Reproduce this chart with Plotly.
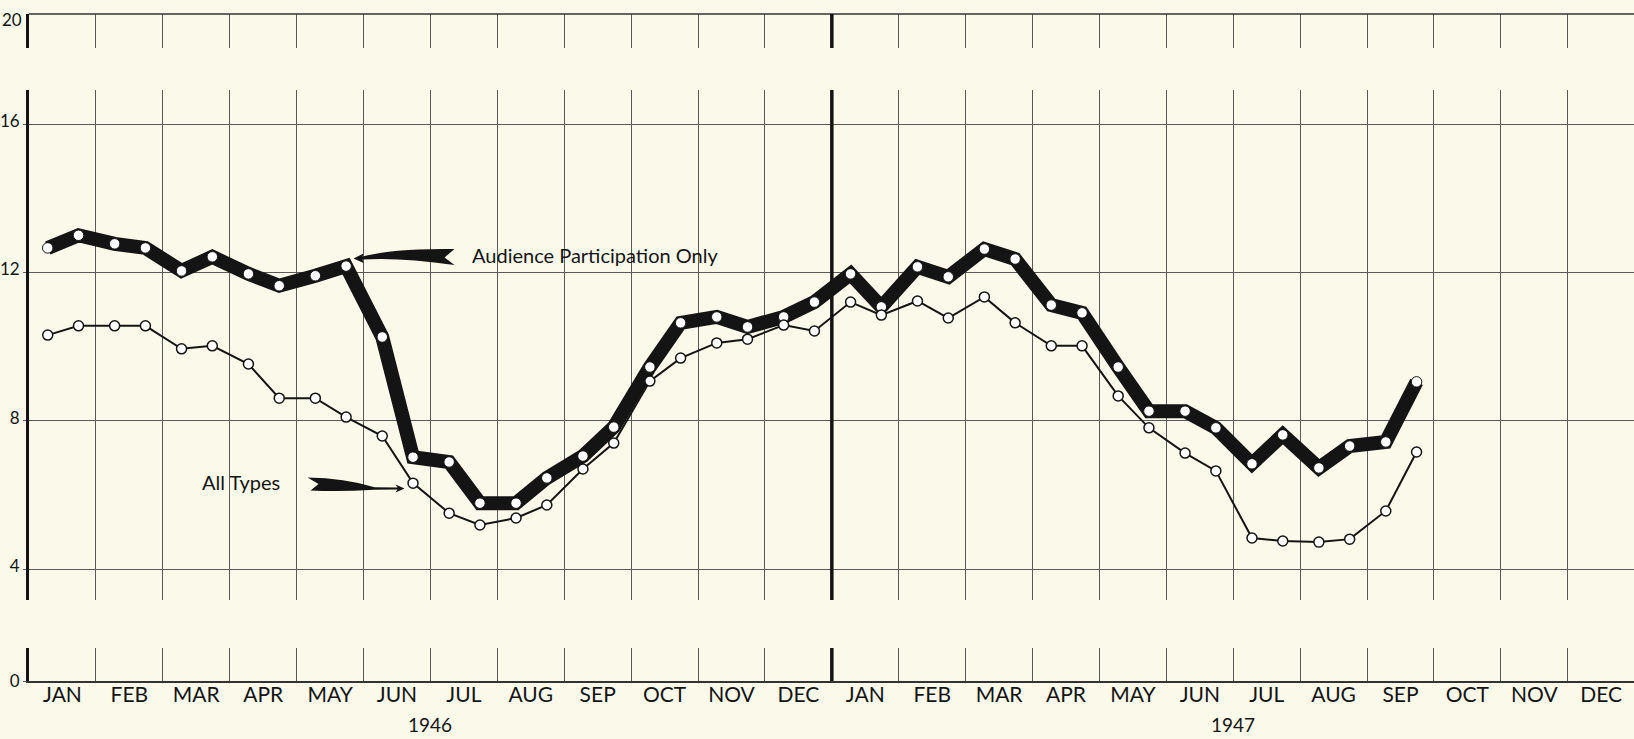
import plotly.graph_objects as go

# Semi-monthly ratings, Jan 1946 - Sep 1947 (two reports per month)
MONTHS = ["JAN", "FEB", "MAR", "APR", "MAY", "JUN",
          "JUL", "AUG", "SEP", "OCT", "NOV", "DEC"]
YEARS = ["1946", "1947"]

audience_participation = [
    12.66, 13.00, 12.77, 12.66, 12.04, 12.42, 11.96, 11.64, 11.91, 12.17, 10.26, 7.02,
    6.89, 5.78, 5.78, 6.46, 7.05, 7.83, 9.45, 10.64, 10.80, 10.53, 10.80, 11.20,
    11.96, 11.07, 12.15, 11.88, 12.63, 12.36, 11.12, 10.91, 9.45, 8.26, 8.26, 7.81,
    6.84, 7.62, 6.73, 7.32, 7.43, 9.05,
]
all_types = [
    10.31, 10.56, 10.56, 10.56, 9.94, 10.02, 9.53, 8.61, 8.61, 8.10, 7.59, 6.32,
    5.51, 5.19, 5.38, 5.73, 6.70, 7.40, 9.07, 9.69, 10.10, 10.20, 10.58, 10.42,
    11.20, 10.85, 11.23, 10.77, 11.34, 10.64, 10.02, 10.02, 8.67, 7.81, 7.13, 6.65,
    4.84, 4.76, 4.73, 4.81, 5.57, 7.16,
]

# position of the 1st and 2nd report inside a month (month units)
REPORT_OFFSETS = (0.28, 0.74)
x_reports = [m + off for m in range(len(audience_participation) // 2) for off in REPORT_OFFSETS]

BG = "#FBF9EA"
INK = "#141414"
GRID = "#5a5a5a"
FONT = "Lato"

W, H = 1634, 739
LEFT = 29
MONTH_PX = 66.9
UNIT_PX = 37.1


def px_x(p):
    return (p - LEFT - 0.5) / MONTH_PX


def px_y(p):
    # pixel row -> value on the main panel (16 sits at row 124)
    return 16 - (p - 124) / UNIT_PX


def swoosh_path(cmds):
    parts = []
    for cmd, pts in cmds:
        coords = " ".join(f"{px_x(x):.4f},{px_y(y):.4f}" for x, y in pts)
        parts.append(f"{cmd}{coords}")
    return " ".join(parts) + " Z"


def dom(top_px, bottom_px):
    return [1 - bottom_px / H, 1 - top_px / H]


fig = go.Figure()

fig.add_trace(go.Scatter(
    x=x_reports, y=audience_participation, mode="lines+markers",
    line=dict(color=INK, width=14),
    marker=dict(size=10.5, color="white", line=dict(color=INK, width=1)),
    name="Audience Participation Only", hoverinfo="skip",
))
fig.add_trace(go.Scatter(
    x=x_reports, y=all_types, mode="lines+markers",
    line=dict(color=INK, width=2),
    marker=dict(size=10, color="white", line=dict(color=INK, width=1.5)),
    name="All Types", hoverinfo="skip",
))
# empty traces so the two axis stubs become subplots with their own grid
fig.add_trace(go.Scatter(x=[None], y=[None], yaxis="y2", showlegend=False))
fig.add_trace(go.Scatter(x=[None], y=[None], yaxis="y3", showlegend=False))

common_y = dict(
    showline=True, linecolor=INK, linewidth=3,
    showgrid=True, gridcolor=GRID, gridwidth=1,
    zeroline=False, ticks="outside", ticklen=3, tickcolor=GRID,
    tickfont=dict(family=FONT, size=17, color=INK),
    ticklabelshift=-3, automargin=False, fixedrange=True,
)

main_bottom = 600
main_top = 90
fig.update_layout(
    width=W, height=H,
    margin=dict(l=LEFT, r=0, t=0, b=0),
    paper_bgcolor=BG, plot_bgcolor=BG,
    showlegend=False,
    xaxis=dict(
        range=[0, 23.99], anchor="y3",
        tickmode="array",
        tickvals=[m + 0.5 for m in range(24)],
        ticktext=MONTHS * 2,
        tickfont=dict(family=FONT, size=21, color=INK),
        showgrid=False, zeroline=False,
        showline=True, linecolor="#333333", linewidth=1.5,
        ticks="", ticklabelstandoff=-6, automargin=False,
        minor=dict(dtick=1, tick0=0, showgrid=True, gridcolor=GRID, gridwidth=1),
        fixedrange=True,
    ),
    yaxis=dict(
        domain=dom(main_top, main_bottom),
        range=[px_y(main_bottom), px_y(main_top)],
        tickvals=[4, 8, 12, 16],
        **common_y,
    ),
    yaxis2=dict(
        domain=dom(14, 48),
        range=[20 - 34 / UNIT_PX, 20],
        tickvals=[], anchor="x",
        **common_y,
    ),
    yaxis3=dict(
        domain=dom(648, 681),
        range=[0, 33 / UNIT_PX],
        tickvals=[0], anchor="x",
        **{**common_y, "showgrid": False, "ticklabelshift": 0},
    ),
)

# top frame line of the upper stub and its label
fig.add_shape(type="line", xref="paper", yref="y2 domain", x0=0, x1=1, y0=1, y1=1,
              line=dict(color="#333333", width=1.5))
fig.add_annotation(text="20", xref="paper", yref="y2", x=0, y=20, xshift=-5, yshift=-5,
                   xanchor="right", yanchor="middle", showarrow=False,
                   font=dict(family=FONT, size=17, color=INK))

# heavy divider between the two years
for yref in ("y domain", "y2 domain", "y3 domain"):
    fig.add_shape(type="line", xref="x", yref=yref, x0=12, x1=12, y0=0, y1=1,
                  line=dict(color=INK, width=3.5))

# swoosh arrows
fig.add_shape(type="path", xref="x", yref="y", fillcolor=INK, line=dict(width=0),
              path=swoosh_path([
                  ("M", [(354, 258.5)]), ("L", [(364, 253.5)]), ("L", [(363, 256.5)]),
                  ("Q", [(395, 248), (455, 249)]), ("L", [(445, 257.5)]), ("L", [(455, 265)]),
                  ("Q", [(400, 257), (363, 259.5)]), ("L", [(364, 263)]),
              ]))
fig.add_shape(type="path", xref="x", yref="y", fillcolor=INK, line=dict(width=0),
              path=swoosh_path([
                  ("M", [(308, 477.5)]), ("Q", [(345, 478), (375, 487.2)]),
                  ("L", [(398, 487.5)]), ("L", [(396, 484.5)]), ("L", [(405, 488.5)]),
                  ("L", [(396, 492.5)]), ("L", [(398, 489.5)]), ("L", [(375, 489.7)]),
                  ("Q", [(340, 492), (311, 490.5)]), ("L", [(319, 484)]),
              ]))

fig.add_annotation(text="Audience Participation Only", x=px_x(470), y=px_y(255),
                   xref="x", yref="y", xanchor="left", yanchor="middle", showarrow=False,
                   font=dict(family=FONT, size=20, color=INK))
fig.add_annotation(text="All Types", x=px_x(200), y=px_y(482),
                   xref="x", yref="y", xanchor="left", yanchor="middle", showarrow=False,
                   font=dict(family=FONT, size=20, color=INK))

for i, year in enumerate(YEARS):
    fig.add_annotation(text=year, x=6 + 12 * i, y=1 - 738 / H, xref="x", yref="paper",
                       xanchor="center", yanchor="bottom", showarrow=False,
                       font=dict(family=FONT, size=19, color=INK))

# drop the browser's default page margin so the figure sits at the window origin
fig.write_html("out.html", config={"displayModeBar": False},
               post_script="document.body.style.margin='0';document.body.style.overflow='hidden';")
